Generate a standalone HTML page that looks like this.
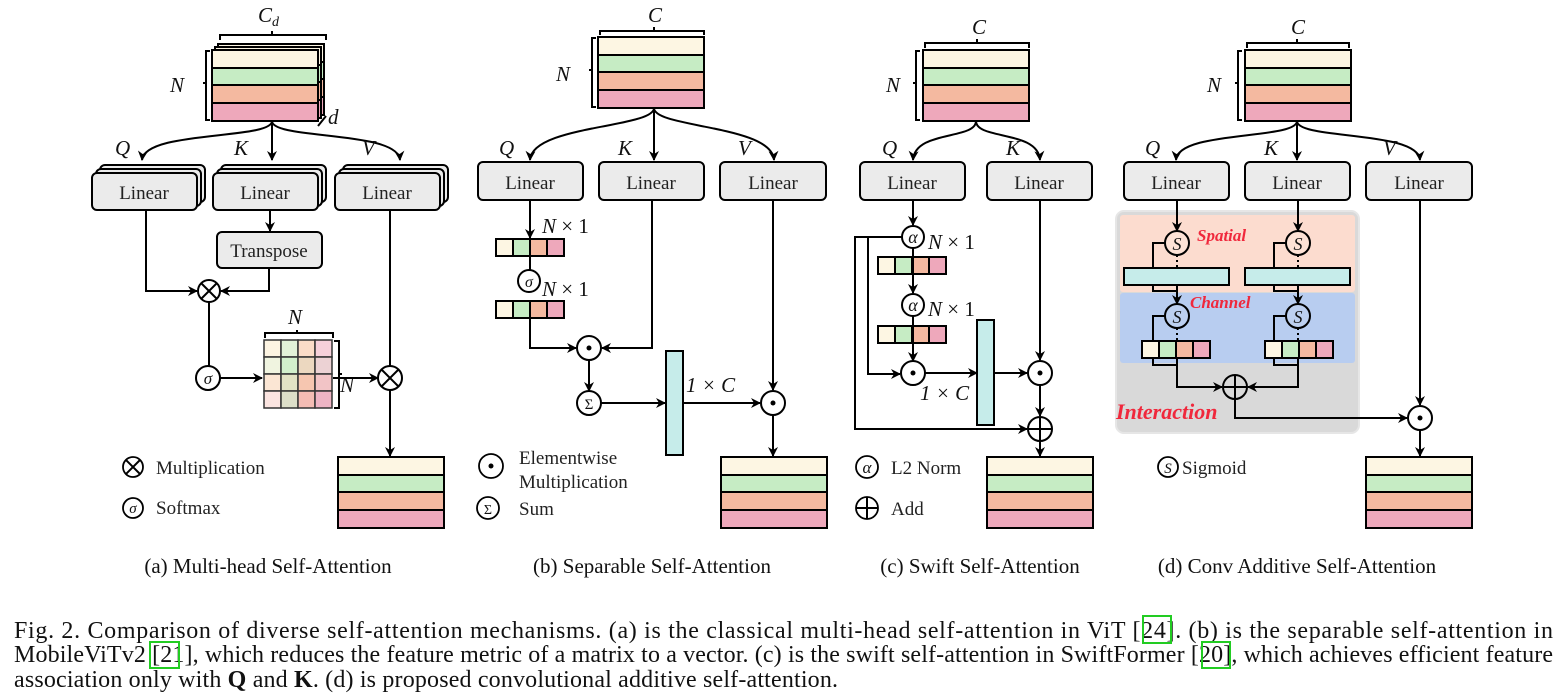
<!DOCTYPE html>
<html><head><meta charset="utf-8"><style>
body{margin:0;background:#fff;width:1565px;height:699px;overflow:hidden}
svg{display:block}
text{font-family:"Liberation Serif",serif;fill:#111}
.m{font-style:italic;font-size:21px}
.lb{font-size:19px;fill:#222}
.cap{font-size:21px}
.red{fill:#f0283c;font-style:italic;font-weight:bold}
.ln{fill:none;stroke:#000;stroke-width:2}
.box{fill:#ebebeb;stroke:#000;stroke-width:2}
</style></head><body>
<svg width="1565" height="699" viewBox="0 0 1565 699" xmlns="http://www.w3.org/2000/svg">
<defs>
<marker id="a" markerWidth="10" markerHeight="10" refX="9" refY="5" orient="auto" markerUnits="userSpaceOnUse"><path d="M0,0 L10,5 L0,10 L3,5 z" fill="#000"/></marker>
<g id="mat"><rect x="0" y="0" width="106" height="18" fill="#fdf6e3" stroke="#000" stroke-width="2"/><rect x="0" y="18" width="106" height="17" fill="#c6ecc4" stroke="#000" stroke-width="2"/><rect x="0" y="35" width="106" height="18" fill="#f4b9a0" stroke="#000" stroke-width="2"/><rect x="0" y="53" width="106" height="18" fill="#eea8bb" stroke="#000" stroke-width="2"/></g>
<g id="vec"><rect x="0" y="0" width="17" height="17" fill="#fdf6e3" stroke="#000" stroke-width="2"/><rect x="17" y="0" width="17" height="17" fill="#c6ecc4" stroke="#000" stroke-width="2"/><rect x="34" y="0" width="17" height="17" fill="#f4b9a0" stroke="#000" stroke-width="2"/><rect x="51" y="0" width="17" height="17" fill="#eea8bb" stroke="#000" stroke-width="2"/></g>
</defs>

<!-- ===== Panel A ===== -->
<use href="#mat" x="218" y="44"/><use href="#mat" x="215" y="47"/><use href="#mat" x="212" y="50"/>
<path class="ln" d="M220,40 v-5 h52 v-4 v4 h54 v5" stroke-width="1.5"/>
<text class="m" x="258" y="22">C<tspan font-size="14" dy="4">d</tspan></text>
<path class="ln" stroke-width="1.5" d="M210,51 h-4 v32 h-3 h3 v37 h4"/>
<text class="m" x="170" y="92">N</text>
<path class="ln" stroke-width="1.5" d="M318,126 l8,-10"/><text class="m" x="328" y="124">d</text>
<path class="ln" marker-end="url(#a)" d="M272,121 C272,140 145,130 142,160"/>
<path class="ln" marker-end="url(#a)" d="M272,121 V160"/>
<path class="ln" marker-end="url(#a)" d="M272,121 C272,140 398,130 400,160"/>
<text class="m" x="115" y="155">Q</text><text class="m" x="234" y="155">K</text><text class="m" x="362" y="155">V</text>
<g><rect class="box" x="100" y="165" width="105" height="37" rx="5"/><rect class="box" x="96" y="169" width="105" height="37" rx="5"/><rect class="box" x="92" y="173" width="105" height="37" rx="5"/><text class="lb" x="144" y="199" text-anchor="middle">Linear</text></g>
<g><rect class="box" x="221" y="165" width="105" height="37" rx="5"/><rect class="box" x="217" y="169" width="105" height="37" rx="5"/><rect class="box" x="213" y="173" width="105" height="37" rx="5"/><text class="lb" x="265" y="199" text-anchor="middle">Linear</text></g>
<g><rect class="box" x="343" y="165" width="105" height="37" rx="5"/><rect class="box" x="339" y="169" width="105" height="37" rx="5"/><rect class="box" x="335" y="173" width="105" height="37" rx="5"/><text class="lb" x="387" y="199" text-anchor="middle">Linear</text></g>
<path class="ln" marker-end="url(#a)" d="M270,210 V231"/>
<rect class="box" x="217" y="232" width="105" height="36" rx="5"/><text class="lb" x="269" y="257" text-anchor="middle">Transpose</text>
<path class="ln" marker-end="url(#a)" d="M146,210 V291 H197"/>
<path class="ln" marker-end="url(#a)" d="M269,268 V291 H221"/>
<circle cx="209" cy="291" r="11" fill="#fff" stroke="#000" stroke-width="2"/><path class="ln" d="M201,283 l16,16 M217,283 l-16,16"/>
<path class="ln" d="M209,302 V366"/>
<circle cx="208" cy="378" r="12" fill="#fff" stroke="#000" stroke-width="2"/><text x="208" y="384" text-anchor="middle" font-style="italic" font-size="17">σ</text>
<path class="ln" marker-end="url(#a)" d="M220,378 H262"/>
<g stroke="#333" stroke-width="1.5">
<rect x="264" y="340" width="17" height="17" fill="#fdf4e2"/><rect x="281" y="340" width="17" height="17" fill="#e2f2d8"/><rect x="298" y="340" width="17" height="17" fill="#fbdcc8"/><rect x="315" y="340" width="17" height="17" fill="#f6d0da"/>
<rect x="264" y="357" width="17" height="17" fill="#f0f4e0"/><rect x="281" y="357" width="17" height="17" fill="#d2f0cc"/><rect x="298" y="357" width="17" height="17" fill="#ecd8c0"/><rect x="315" y="357" width="17" height="17" fill="#ecd2d4"/>
<rect x="264" y="374" width="17" height="17" fill="#fbe6d4"/><rect x="281" y="374" width="17" height="17" fill="#e2e2c4"/><rect x="298" y="374" width="17" height="17" fill="#f6c6b0"/><rect x="315" y="374" width="17" height="17" fill="#f2c4c6"/>
<rect x="264" y="391" width="17" height="17" fill="#fbe4e0"/><rect x="281" y="391" width="17" height="17" fill="#dcdec8"/><rect x="298" y="391" width="17" height="17" fill="#f4bcb4"/><rect x="315" y="391" width="17" height="17" fill="#eeb4c4"/>
</g>
<path class="ln" stroke-width="1.5" d="M265,338 v-5 h32 v-3 v3 h36 v5"/><text class="m" x="288" y="324">N</text>
<path class="ln" stroke-width="1.5" d="M334,341 h5 v33 h3 h-3 v34 h-5"/><text class="m" x="340" y="392">N</text>
<path class="ln" marker-end="url(#a)" d="M333,378 H378"/>
<path class="ln" d="M390,210 V366"/>
<circle cx="390" cy="378" r="12" fill="#fff" stroke="#000" stroke-width="2"/><path class="ln" d="M382,370 l16,16 M398,370 l-16,16"/>
<path class="ln" marker-end="url(#a)" d="M390,390 V456"/>
<use href="#mat" x="338" y="457"/>
<circle cx="133" cy="467" r="10" fill="#fff" stroke="#000" stroke-width="1.8"/><path class="ln" stroke-width="1.8" d="M126,460 l14,14 M140,460 l-14,14"/>
<text class="lb" x="156" y="474">Multiplication</text>
<circle cx="133" cy="508" r="10" fill="#fff" stroke="#000" stroke-width="1.8"/><text x="133" y="513" text-anchor="middle" font-style="italic" font-size="15">σ</text>
<text class="lb" x="156" y="514">Softmax</text>
<text class="cap" x="268" y="573" text-anchor="middle">(a) Multi-head Self-Attention</text>

<!-- ===== Panel B ===== -->
<use href="#mat" x="598" y="37"/>
<path class="ln" stroke-width="1.5" d="M600,35 v-4 h54 v-4 v4 h50 v4"/><text class="m" x="648" y="22">C</text>
<path class="ln" stroke-width="1.5" d="M596,38 h-4 v32 h-3 h3 v37 h4"/><text class="m" x="556" y="81">N</text>
<path class="ln" marker-end="url(#a)" d="M654,108 C654,128 532,125 530,160"/>
<path class="ln" marker-end="url(#a)" d="M654,108 V160"/>
<path class="ln" marker-end="url(#a)" d="M654,108 C654,128 772,125 774,160"/>
<text class="m" x="499" y="155">Q</text><text class="m" x="618" y="155">K</text><text class="m" x="738" y="155">V</text>
<rect class="box" x="478" y="162" width="105" height="38" rx="5"/><text class="lb" x="530" y="189" text-anchor="middle">Linear</text>
<rect class="box" x="599" y="162" width="105" height="38" rx="5"/><text class="lb" x="651" y="189" text-anchor="middle">Linear</text>
<rect class="box" x="720" y="162" width="106" height="38" rx="5"/><text class="lb" x="773" y="189" text-anchor="middle">Linear</text>
<path class="ln" marker-end="url(#a)" d="M530,200 V238"/>
<use href="#vec" x="496" y="239"/>
<text class="m" x="542" y="233">N <tspan font-style="normal">× 1</tspan></text>
<path class="ln" d="M530,256 V270"/>
<circle cx="529" cy="281" r="11" fill="#fff" stroke="#000" stroke-width="2"/><text x="529" y="287" text-anchor="middle" font-style="italic" font-size="16">σ</text>
<text class="m" x="542" y="296">N <tspan font-style="normal">× 1</tspan></text>
<use href="#vec" x="496" y="301"/>
<path class="ln" marker-end="url(#a)" d="M530,318 V348 H576"/>
<path class="ln" marker-end="url(#a)" d="M652,200 V348 H602"/>
<circle cx="589" cy="348" r="12" fill="#fff" stroke="#000" stroke-width="2"/><circle cx="589" cy="348" r="2.5" fill="#000"/>
<path class="ln" marker-end="url(#a)" d="M589,360 V391"/>
<circle cx="589" cy="403" r="12" fill="#fff" stroke="#000" stroke-width="2"/><text x="589" y="409" text-anchor="middle" font-size="15">Σ</text>
<path class="ln" marker-end="url(#a)" d="M601,403 H665"/>
<rect x="666" y="351" width="17" height="104" fill="#c6ecea" stroke="#000" stroke-width="2"/>
<text class="m" x="686" y="392" font-style="normal">1 × <tspan font-style="italic">C</tspan></text>
<path class="ln" marker-end="url(#a)" d="M683,403 H760"/>
<path class="ln" marker-end="url(#a)" d="M773,200 V390"/>
<circle cx="773" cy="403" r="12" fill="#fff" stroke="#000" stroke-width="2"/><circle cx="773" cy="403" r="2.5" fill="#000"/>
<path class="ln" marker-end="url(#a)" d="M773,415 V456"/>
<use href="#mat" x="721" y="457"/>
<circle cx="491" cy="466" r="12" fill="#fff" stroke="#000" stroke-width="1.8"/><circle cx="491" cy="466" r="2.5" fill="#000"/>
<text class="lb" x="519" y="464">Elementwise</text><text class="lb" x="519" y="488">Multiplication</text>
<circle cx="488" cy="508" r="11" fill="#fff" stroke="#000" stroke-width="1.8"/><text x="488" y="514" text-anchor="middle" font-size="14">Σ</text>
<text class="lb" x="519" y="515">Sum</text>
<text class="cap" x="652" y="573" text-anchor="middle">(b) Separable Self-Attention</text>

<!-- ===== Panel C ===== -->
<use href="#mat" x="923" y="50"/>
<path class="ln" stroke-width="1.5" d="M925,48 v-5 h52 v-4 v4 h52 v5"/><text class="m" x="972" y="34">C</text>
<path class="ln" stroke-width="1.5" d="M920,51 h-4 v32 h-3 h3 v37 h4"/><text class="m" x="886" y="92">N</text>
<path class="ln" marker-end="url(#a)" d="M976,121 C976,140 915,130 913,160"/>
<path class="ln" marker-end="url(#a)" d="M976,121 C976,140 1038,130 1040,160"/>
<text class="m" x="882" y="155">Q</text><text class="m" x="1006" y="155">K</text>
<rect class="box" x="860" y="162" width="105" height="38" rx="5"/><text class="lb" x="912" y="189" text-anchor="middle">Linear</text>
<rect class="box" x="987" y="162" width="105" height="38" rx="5"/><text class="lb" x="1039" y="189" text-anchor="middle">Linear</text>
<path class="ln" marker-end="url(#a)" d="M913,200 V225"/>
<circle cx="913" cy="237" r="11" fill="#fff" stroke="#000" stroke-width="2"/><text x="913" y="243" text-anchor="middle" font-style="italic" font-size="18">α</text>
<text class="m" x="928" y="249">N <tspan font-style="normal">× 1</tspan></text>
<use href="#vec" x="878" y="257"/>
<path class="ln" marker-end="url(#a)" d="M913,248 V293"/>
<circle cx="913" cy="305" r="11" fill="#fff" stroke="#000" stroke-width="2"/><text x="913" y="311" text-anchor="middle" font-style="italic" font-size="18">α</text>
<text class="m" x="928" y="316">N <tspan font-style="normal">× 1</tspan></text>
<use href="#vec" x="878" y="326"/>
<path class="ln" marker-end="url(#a)" d="M913,316 V361"/>
<path class="ln" marker-end="url(#a)" d="M902,237 H868 V374 H900"/>
<path class="ln" marker-end="url(#a)" d="M868,237 H855 V429 H1027"/>
<circle cx="913" cy="373" r="12" fill="#fff" stroke="#000" stroke-width="2"/><circle cx="913" cy="373" r="2.5" fill="#000"/>
<path class="ln" marker-end="url(#a)" d="M925,373 H977"/>
<rect x="977" y="320" width="17" height="105" fill="#c6ecea" stroke="#000" stroke-width="2"/>
<text class="m" x="920" y="400" font-style="normal">1 × <tspan font-style="italic">C</tspan></text>
<path class="ln" marker-end="url(#a)" d="M994,373 H1027"/>
<path class="ln" marker-end="url(#a)" d="M1040,200 V360"/>
<circle cx="1040" cy="373" r="12" fill="#fff" stroke="#000" stroke-width="2"/><circle cx="1040" cy="373" r="2.5" fill="#000"/>
<path class="ln" marker-end="url(#a)" d="M1040,385 V416"/>
<circle cx="1040" cy="429" r="12" fill="#fff" stroke="#000" stroke-width="2"/><path class="ln" d="M1028,429 h24 M1040,417 v24"/>
<path class="ln" marker-end="url(#a)" d="M1040,441 V456"/>
<use href="#mat" x="987" y="457"/>
<circle cx="867" cy="467" r="11" fill="#fff" stroke="#000" stroke-width="1.8"/><text x="867" y="473" text-anchor="middle" font-style="italic" font-size="17">α</text>
<text class="lb" x="891" y="474">L2 Norm</text>
<circle cx="867" cy="508" r="11" fill="#fff" stroke="#000" stroke-width="1.8"/><path class="ln" stroke-width="1.8" d="M856,508 h22 M867,497 v22"/>
<text class="lb" x="891" y="515">Add</text>
<text class="cap" x="980" y="573" text-anchor="middle">(c) Swift Self-Attention</text>

<!-- ===== Panel D ===== -->
<use href="#mat" x="1245" y="50"/>
<path class="ln" stroke-width="1.5" d="M1247,48 v-5 h50 v-4 v4 h52 v5"/><text class="m" x="1291" y="34">C</text>
<path class="ln" stroke-width="1.5" d="M1242,51 h-4 v32 h-3 h3 v37 h4"/><text class="m" x="1207" y="92">N</text>
<path class="ln" marker-end="url(#a)" d="M1297,121 C1297,140 1178,130 1176,160"/>
<path class="ln" marker-end="url(#a)" d="M1297,121 V160"/>
<path class="ln" marker-end="url(#a)" d="M1297,121 C1297,140 1418,130 1420,160"/>
<text class="m" x="1145" y="155">Q</text><text class="m" x="1264" y="155">K</text><text class="m" x="1383" y="155">V</text>
<rect class="box" x="1124" y="162" width="105" height="38" rx="5"/><text class="lb" x="1176" y="189" text-anchor="middle">Linear</text>
<rect class="box" x="1245" y="162" width="105" height="38" rx="5"/><text class="lb" x="1297" y="189" text-anchor="middle">Linear</text>
<rect class="box" x="1366" y="162" width="106" height="38" rx="5"/><text class="lb" x="1419" y="189" text-anchor="middle">Linear</text>
<rect x="1116" y="211" width="243" height="222" rx="8" fill="#d9d9d9" stroke="#e6e6e6" stroke-width="2"/>
<rect x="1120" y="215" width="235" height="77" rx="3" fill="#fcdccf"/>
<rect x="1120" y="293" width="235" height="70" rx="3" fill="#b8cdf0"/>
<text class="red" x="1197" y="241" font-size="17">Spatial</text>
<text class="red" x="1190" y="308" font-size="17">Channel</text>
<text class="red" x="1116" y="419" font-size="22">Interaction</text>
<g>
<path class="ln" marker-end="url(#a)" d="M1177,200 V231"/>
<path class="ln" marker-end="url(#a)" d="M1298,200 V231"/>
<circle cx="1177" cy="243" r="12" fill="#fde2d6" stroke="#000" stroke-width="2"/><text x="1177" y="250" text-anchor="middle" font-style="italic" font-size="18">S</text>
<circle cx="1298" cy="243" r="12" fill="#fde2d6" stroke="#000" stroke-width="2"/><text x="1298" y="250" text-anchor="middle" font-style="italic" font-size="18">S</text>
<path class="ln" stroke-dasharray="2,3" d="M1177,255 V268 M1298,255 V268 M1177,328 V341 M1298,328 V341"/>
<path class="ln" d="M1165,243 H1153 V268 M1286,243 H1274 V268"/>
<rect x="1124" y="268" width="105" height="17" fill="#c6ecea" stroke="#000" stroke-width="2"/>
<rect x="1245" y="268" width="105" height="17" fill="#c6ecea" stroke="#000" stroke-width="2"/>
<path class="ln" d="M1153,285 V291 H1177 M1274,285 V291 H1298"/>
<path class="ln" marker-end="url(#a)" d="M1177,285 V304"/>
<path class="ln" marker-end="url(#a)" d="M1298,285 V304"/>
<circle cx="1177" cy="316" r="12" fill="#bdd0f0" stroke="#000" stroke-width="2"/><text x="1177" y="323" text-anchor="middle" font-style="italic" font-size="18">S</text>
<circle cx="1298" cy="316" r="12" fill="#bdd0f0" stroke="#000" stroke-width="2"/><text x="1298" y="323" text-anchor="middle" font-style="italic" font-size="18">S</text>
<path class="ln" d="M1165,316 H1153 V341 M1286,316 H1274 V341"/>
<use href="#vec" x="1142" y="341"/><use href="#vec" x="1265" y="341"/>
<path class="ln" d="M1153,358 V365 H1177 M1274,358 V365 H1298"/>
<path class="ln" marker-end="url(#a)" d="M1177,358 V387 H1222"/>
<path class="ln" marker-end="url(#a)" d="M1298,358 V387 H1248"/>
<circle cx="1235" cy="387" r="12" fill="none" stroke="#000" stroke-width="2"/><path class="ln" d="M1223,387 h24 M1235,375 v24"/>
<path class="ln" marker-end="url(#a)" d="M1235,399 V418 H1407"/>
</g>
<path class="ln" marker-end="url(#a)" d="M1420,200 V405"/>
<circle cx="1420" cy="418" r="12" fill="#fff" stroke="#000" stroke-width="2"/><circle cx="1420" cy="418" r="2.5" fill="#000"/>
<path class="ln" marker-end="url(#a)" d="M1420,430 V456"/>
<use href="#mat" x="1366" y="457"/>
<circle cx="1168" cy="467" r="10" fill="#fff" stroke="#000" stroke-width="1.8"/><text x="1168" y="473" text-anchor="middle" font-style="italic" font-size="15">S</text>
<text class="lb" x="1182" y="474">Sigmoid</text>
<text class="cap" x="1297" y="573" text-anchor="middle">(d) Conv Additive Self-Attention</text>

<!-- ===== Caption ===== -->
<g font-size="24">
<text x="14" y="638" textLength="1539" lengthAdjust="spacing">Fig. 2.  Comparison of diverse self-attention mechanisms. (a) is the classical multi-head self-attention in ViT [24]. (b) is the separable self-attention in</text>
<text x="14" y="662" textLength="1539" lengthAdjust="spacing">MobileViTv2 [21], which reduces the feature metric of a matrix to a vector. (c) is the swift self-attention in SwiftFormer [20], which achieves efficient feature</text>
<text x="14" y="687" textLength="824" lengthAdjust="spacing">association only with <tspan font-weight="bold">Q</tspan> and <tspan font-weight="bold">K</tspan>. (d) is proposed convolutional additive self-attention.</text>
</g>
<g fill="none" stroke="#22cc22" stroke-width="2">
<rect x="1143" y="616" width="28" height="27"/>
<rect x="150" y="642" width="29" height="26"/>
<rect x="1202" y="642" width="28" height="26"/>
</g>
</svg>
</body></html>
